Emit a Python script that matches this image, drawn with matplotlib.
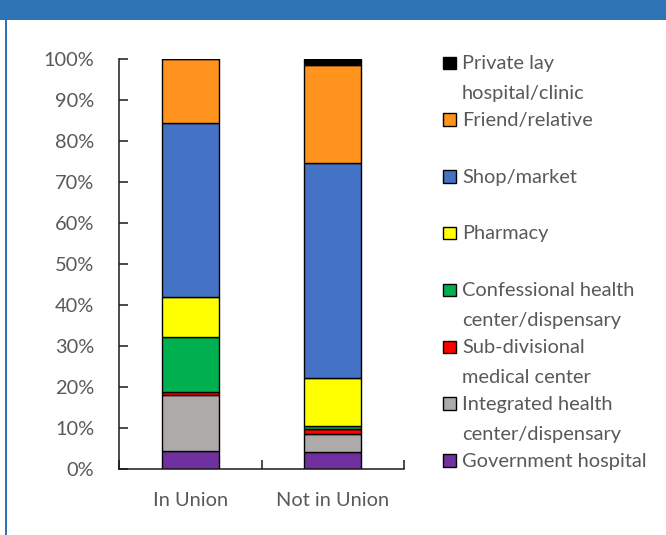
import matplotlib.pyplot as plt
from matplotlib.patches import Rectangle

# Data (percent of respondents, stacked bottom -> top)
categories = ['In Union', 'Not in Union']
series_labels = ['Government hospital',
                 'Integrated health\ncenter/dispensary',
                 'Sub-divisional\nmedical center',
                 'Confessional health\ncenter/dispensary',
                 'Pharmacy',
                 'Shop/market',
                 'Friend/relative',
                 'Private lay\nhospital/clinic']
gov_hospital = [4.5, 4.1]
integrated = [13.5, 4.4]
sub_divisional = [0.8, 1.3]
confessional = [13.5, 0.8]
pharmacy = [9.6, 11.7]
shop_market = [42.5, 52.4]
friend_relative = [15.6, 23.8]
private_lay = [0.0, 1.5]
series_values = [gov_hospital, integrated, sub_divisional, confessional,
                 pharmacy, shop_market, friend_relative, private_lay]
colors = ['#7030A0', '#AEAAAA', '#FF0000', '#00B050',
          '#FFFF00', '#4472C4', '#FF931E', '#000000']
y_ticks = [0, 10, 20, 30, 40, 50, 60, 70, 80, 90, 100]
y_tick_labels = ['%d%%' % v for v in y_ticks]

plt.rcParams['font.family'] = ['Lato', 'DejaVu Sans']
text_color = '#595959'
fs = 14.4
W, H = 666, 535

fig = plt.figure(figsize=(W / 100, H / 100), dpi=100)
ax = fig.add_axes([119 / W, 1 - 469 / H, 285 / W, 410 / H])

# stacked bars
x = list(range(len(categories)))
bottom = [0.0] * len(categories)
for vals, col in zip(series_values, colors):
    ax.bar(x, vals, 0.4, bottom=bottom, color=col, edgecolor='black',
           linewidth=1.0, zorder=2)
    bottom = [b + v for b, v in zip(bottom, vals)]

ax.set_xlim(-0.5, 1.5)
ax.set_ylim(0, 100)
ax.set_yticks(y_ticks)
ax.set_yticklabels(y_tick_labels)
ax.set_xticks(x)
ax.set_xticklabels(categories)
ax.set_xticks([-0.5, 0.5, 1.5], minor=True)

for side in ['top', 'right']:
    ax.spines[side].set_visible(False)
for side in ['left', 'bottom']:
    ax.spines[side].set_linewidth(1.1)
    ax.spines[side].set_color('#1a1a1a')

ax.tick_params(axis='y', direction='in', length=6.5, width=1.1, color='#1a1a1a',
               labelsize=fs, labelcolor=text_color, pad=18)
ax.tick_params(axis='x', which='major', length=0, labelsize=fs,
               labelcolor=text_color, pad=16.5)
ax.tick_params(axis='x', which='minor', direction='in', length=6.5, width=1.1,
               color='#1a1a1a')

# legend, drawn by hand to keep equal slots (top entry first)
slot = 56.8
for i, (lab, col) in enumerate(zip(series_labels[::-1], colors[::-1])):
    base = 69 + slot * i
    fig.patches.append(Rectangle((443 / W, 1 - base / H), 13 / W, 12.5 / H,
                                 transform=fig.transFigure, facecolor=col,
                                 edgecolor='black', linewidth=1.0))
    lines = lab.split('\n')
    for j, line in enumerate(lines):
        fig.text(462 / W, 1 - (base + 30 * j) / H, line, fontsize=fs,
                 color=text_color, va='baseline', ha='left')

# frame: blue banner on top and a blue border on the left
fig.patches.append(Rectangle((0, 1 - 20 / H), 1, 20 / H, transform=fig.transFigure,
                             facecolor='#2E74B5', edgecolor='none'))
fig.patches.append(Rectangle((4.8 / W, 0), 2.5 / W, 1 - 20 / H,
                             transform=fig.transFigure, facecolor='#2E74B5',
                             edgecolor='none'))

fig.savefig('out.png', dpi=100)
